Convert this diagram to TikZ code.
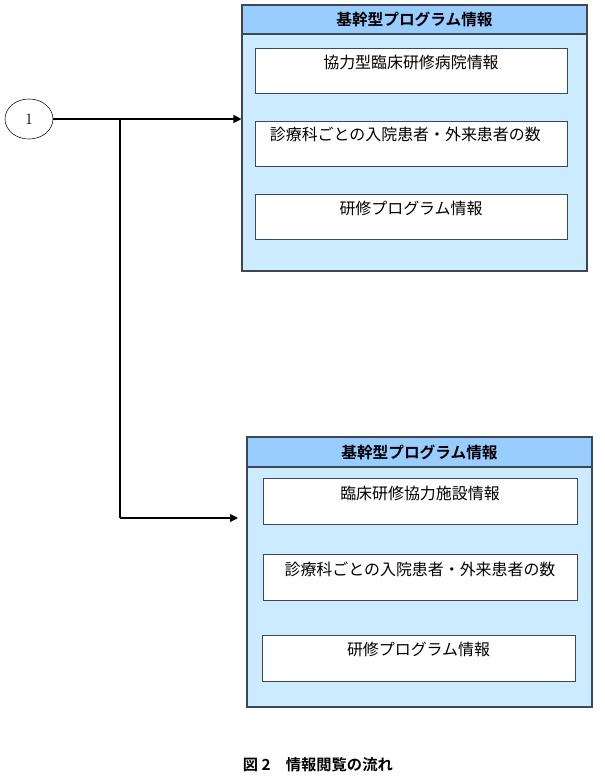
\documentclass[tikz,border=0pt]{standalone}
\usepackage{fontspec}
\newfontfamily\jp{Noto Sans CJK JP}[BoldFont={Noto Sans CJK JP Bold}]
\usetikzlibrary{shapes.geometric,arrows.meta}
\definecolor{cabecera}{RGB}{153,204,255}
\definecolor{fondo}{RGB}{204,235,255}
\definecolor{borde}{RGB}{60,72,84}
\begin{document}
\begin{tikzpicture}[
      panel/.style={draw=borde, thick, fill=fondo, minimum width=9.129cm},
      cab/.style={draw=borde, thick, fill=cabecera, minimum width=9.129cm, font=\jp\bfseries\fontsize{11.8}{14}\selectfont},
      caja/.style={draw=borde, fill=white, minimum height=1.2cm},
      etiqueta/.style={font=\jp\fontsize{12}{14}\selectfont, anchor=north, inner sep=0pt},
      flecha/.style={draw=black, thick, -{Triangle[length=6pt,width=6pt]}}
    ]
    \useasboundingbox (0,0) rectangle (16.008,-20.586);
    % --- origen ---
    \node[ellipse, draw=black, minimum width=1.27cm, minimum height=1.06cm, inner sep=0pt, font=\fontsize{12}{14}\selectfont] (inicio) at (0.767,-3.149) {1};

    % --- panel superior ---
    \node[panel, minimum height=7.038cm] (sup) at (10.967,-3.652) {};
    \node[cab, minimum height=0.767cm] (supCab) at (10.967,-0.516) {基幹型プログラム情報};
    \node[caja, minimum width=8.256cm, minimum height=1.191cm] (sup1) at (10.875,-1.865) {};
    \node[etiqueta] at ([yshift=-0.2cm]sup1.north) {協力型臨床研修病院情報};
    \node[caja, minimum width=8.256cm, minimum height=1.191cm] (sup2) at (10.875,-3.797) {};
    \node[etiqueta] at ([xshift=-0.15cm,yshift=-0.15cm]sup2.north) {診療科ごとの入院患者・外来患者の数};
    \node[caja, minimum width=8.256cm, minimum height=1.191cm] (sup3) at (10.875,-5.729) {};
    \node[etiqueta] at ([yshift=-0.2cm]sup3.north) {研修プログラム情報};

    % --- panel inferior ---
    \node[panel, minimum height=7.144cm] (inf) at (11.100,-15.135) {};
    \node[cab, minimum height=0.794cm] (infCab) at (11.100,-11.960) {基幹型プログラム情報};
    \node[caja, minimum width=8.308cm, minimum height=1.217cm] (inf1) at (11.113,-13.256) {};
    \node[etiqueta] at ([yshift=-0.22cm]inf1.north) {臨床研修協力施設情報};
    \node[caja, minimum width=8.308cm, minimum height=1.217cm] (inf2) at (11.113,-15.267) {};
    \node[etiqueta] at ([yshift=-0.22cm]inf2.north) {診療科ごとの入院患者・外来患者の数};
    \node[caja, minimum width=8.282cm, minimum height=1.217cm] (inf3) at (11.074,-17.411) {};
    \node[etiqueta] at ([yshift=-0.18cm]inf3.north) {研修プログラム情報};

    % --- conexiones ---
    \coordinate (rama) at (3.175,-3.149);
    \coordinate (codo) at (3.175,-13.706);
    \coordinate (punta) at (6.297,-13.706);
    \draw[flecha] (inicio.east) -- (inicio.east -| sup.west);
    \draw[thick] (rama) -- (codo);
    \draw[flecha] (codo) -- (punta);

    % --- pie ---
    \node[font=\jp\bfseries\fontsize{11.5}{14}\selectfont, anchor=south] (pie) at (8.41,-20.56) {図 2\quad 情報閲覧の流れ};
  \end{tikzpicture}
\end{document}
